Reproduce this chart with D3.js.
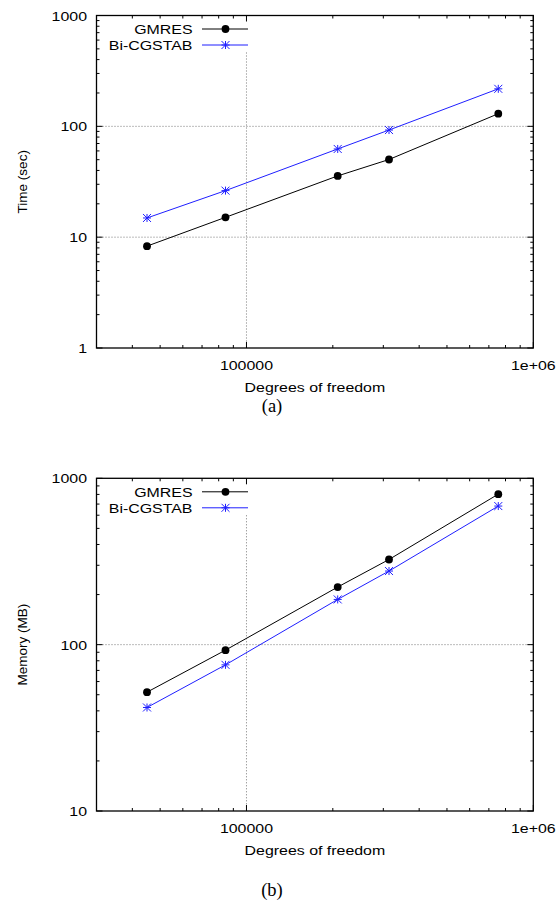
<!DOCTYPE html>
<html>
<head>
<meta charset="utf-8">
<title>GMRES vs Bi-CGSTAB</title>
<script src="https://d3js.org/d3.v7.min.js"></script>
<style>
  body { margin: 0; background: white; }
  text { font-family: "Liberation Sans", Arial, sans-serif; fill: black; }
</style>
</head>
<body>
<svg id="fig" width="560" height="909"></svg>
<script>
// data
var dof = [45000, 84500, 208000, 314000, 755000];
var timeGMRES = [8.3, 15.1, 35.7, 50.2, 130];
var timeBiCG = [14.9, 26.3, 62.5, 92.6, 218];
var memGMRES = [51.8, 92.7, 222, 325, 803];
var memBiCG = [41.9, 75.6, 187, 277, 681];
var seriesNames = ["GMRES", "Bi-CGSTAB"];
var xTicks = [1e5, 1e6];
var xTickLabels = ["100000", "1e+06"];
var timeTicks = [1, 10, 100, 1000];
var memTicks = [10, 100, 1000];

var svg = d3.select("#fig");
var left = 96.5, right = 533.3;
var stretch = 1.18; // text in the original is a bit wide

function label(g, x, y, str, anchor, size) {
  g.append("text")
    .attr("transform", "translate(" + x + "," + y + ") scale(" + stretch + ",1)")
    .attr("text-anchor", anchor)
    .style("font-size", (size || 13.5) + "px")
    .text(str);
}

function minors(lo, hi) {
  var out = [];
  for (var d = lo; d < hi; d *= 10)
    for (var k = 2; k <= 9; k++) out.push(d * k);
  return out;
}

function drawChart(top, bottom, yDomain, yTicks, yLabel, ys, yGrid, caption, capY) {
  var g = svg.append("g");
  var x = d3.scaleLog().domain([30000, 1e6]).range([left, right]);
  var y = d3.scaleLog().domain(yDomain).range([bottom, top]);

  // grid
  g.selectAll(".hgrid").data(yGrid).enter().append("line")
    .attr("x1", left).attr("x2", right)
    .attr("y1", function(d) { return y(d); }).attr("y2", function(d) { return y(d); })
    .attr("stroke", "#777").attr("stroke-width", 1).attr("stroke-dasharray", "1,2");
  g.append("line")
    .attr("x1", x(1e5)).attr("x2", x(1e5))
    .attr("y1", top + 37).attr("y2", bottom)
    .attr("stroke", "#777").attr("stroke-width", 1).attr("stroke-dasharray", "1,2");

  // ticks, inward on all four sides
  var xMin = minors(1e4, 1e6).filter(function(d) { return d > 30000 && d < 1e6 && d != 1e5; });
  var yMin = minors(yDomain[0], yDomain[1]);
  function ticks(data, isX, len) {
    data.forEach(function(d) {
      if (isX) {
        var px = x(d);
        g.append("line").attr("x1", px).attr("x2", px).attr("y1", bottom).attr("y2", bottom - len).attr("stroke", "black");
        g.append("line").attr("x1", px).attr("x2", px).attr("y1", top).attr("y2", top + len).attr("stroke", "black");
      } else {
        var py = y(d);
        g.append("line").attr("x1", left).attr("x2", left + len).attr("y1", py).attr("y2", py).attr("stroke", "black");
        g.append("line").attr("x1", right).attr("x2", right - len).attr("y1", py).attr("y2", py).attr("stroke", "black");
      }
    });
  }
  ticks(xMin, true, 3);
  ticks(xTicks, true, 6);
  ticks(yMin, false, 3);
  ticks(yTicks, false, 6);

  g.append("rect")
    .attr("x", left).attr("y", top)
    .attr("width", right - left).attr("height", bottom - top)
    .attr("fill", "none").attr("stroke", "black").attr("stroke-width", 1.3);

  // tick labels
  yTicks.forEach(function(d) { label(g, 87, y(d) + 5, String(d), "end"); });
  xTicks.forEach(function(d, i) { label(g, x(d), bottom + 22, xTickLabels[i], "middle"); });

  label(g, (left + right) / 2, bottom + 44, "Degrees of freedom", "middle");
  g.append("text")
    .attr("transform", "translate(27," + (top + bottom) / 2 + ") rotate(-90)")
    .attr("text-anchor", "middle")
    .style("font-size", "13.5px")
    .text(yLabel);

  g.append("text")
    .attr("x", 272).attr("y", capY)
    .attr("text-anchor", "middle")
    .style("font-family", "'Liberation Serif', 'Times New Roman', serif")
    .style("font-size", "18.5px")
    .text(caption);

  // series
  var colors = ["black", "#1f1fff"];
  var line = d3.line().x(function(d) { return x(d[0]); }).y(function(d) { return y(d[1]); });
  ys.forEach(function(vals, s) {
    var pts = dof.map(function(d, i) { return [d, vals[i]]; });
    g.append("path").datum(pts).attr("d", line)
      .attr("fill", "none").attr("stroke", colors[s]).attr("stroke-width", 1);
    pts.forEach(function(p) { marker(g, s, x(p[0]), y(p[1]), colors[s]); });

    // legend
    var ly = top + 13.5 + s * 16;
    label(g, 192.5, ly + 5, seriesNames[s], "end");
    g.append("line").attr("x1", 202).attr("x2", 248).attr("y1", ly).attr("y2", ly)
      .attr("stroke", colors[s]).attr("stroke-width", 1);
    marker(g, s, 225.5, ly, colors[s]);
  });
}

function marker(g, s, cx, cy, col) {
  if (s === 0) {
    g.append("circle").attr("cx", cx).attr("cy", cy).attr("r", 3.9).attr("fill", col);
  } else {
    var r = 4;
    var p = "M" + (cx - r) + "," + cy + "h" + 2 * r +
      "M" + cx + "," + (cy - r) + "v" + 2 * r +
      "M" + (cx - r) + "," + (cy - r) + "l" + 2 * r + "," + 2 * r +
      "M" + (cx - r) + "," + (cy + r) + "l" + 2 * r + "," + (-2 * r);
    g.append("path").attr("d", p).attr("stroke", col).attr("stroke-width", 1).attr("fill", "none");
  }
}

drawChart(15.5, 348, [1, 1000], timeTicks, "Time (sec)", [timeGMRES, timeBiCG], [10, 100], "(a)", 412);
drawChart(478.3, 811, [10, 1000], memTicks, "Memory (MB)", [memGMRES, memBiCG], [100], "(b)", 896);
</script>
</body>
</html>
